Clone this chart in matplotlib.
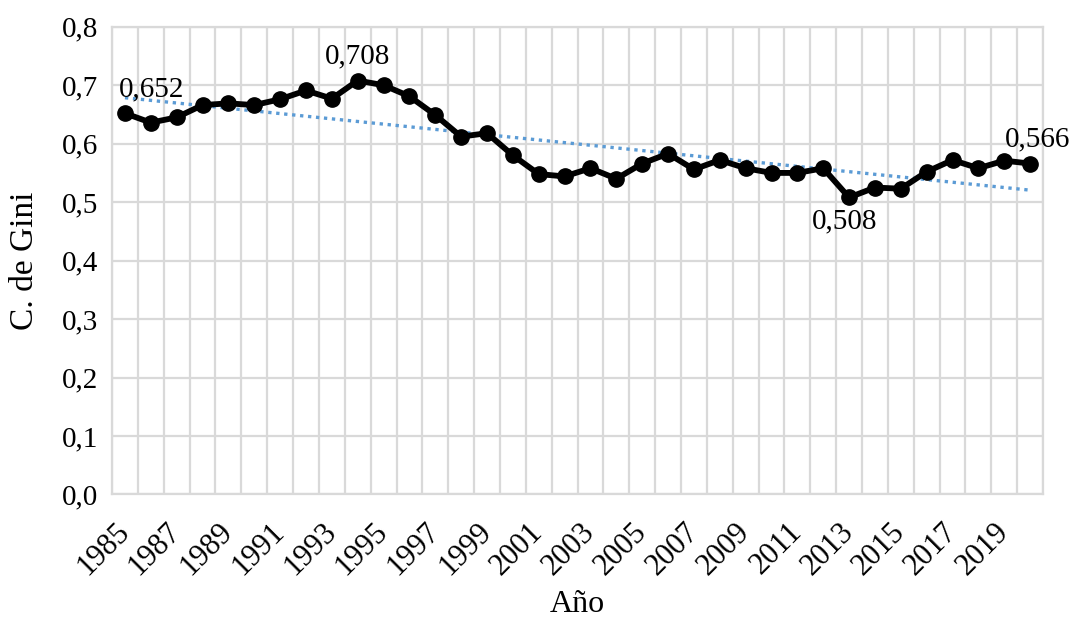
import numpy as np
import matplotlib.pyplot as plt

plt.rcParams['font.family'] = ['Liberation Serif', 'DejaVu Serif']

years = list(range(1985, 2021))
gini = [0.652, 0.636, 0.645, 0.666, 0.669, 0.666, 0.676, 0.691, 0.677, 0.708,
        0.700, 0.681, 0.649, 0.612, 0.618, 0.580, 0.548, 0.544, 0.558, 0.540,
        0.566, 0.583, 0.556, 0.572, 0.558, 0.550, 0.550, 0.558, 0.508, 0.525,
        0.523, 0.552, 0.572, 0.558, 0.571, 0.566]
# year -> (x offset, y offset) of the data label, in points
labeled = {1985: (19, 8), 1994: (0, 8), 2013: (-3, -8), 2020: (5, 8)}

x = np.arange(len(years))
fig = plt.figure(figsize=(10.73, 6.22), dpi=100)
ax = fig.add_axes([0.1044, 0.205, 0.8677, 0.752])

# linear trend
coef = np.polyfit(x, gini, 1)
ax.plot(x, np.polyval(coef, x), linestyle=(0, (1, 1.4)), color='#5B9BD5', lw=2.4, zorder=3)

ax.plot(x, gini, color='black', lw=4.2, marker='o', markersize=11, zorder=4)

for yr, (dx, dy) in labeled.items():
    i = years.index(yr)
    v = gini[i]
    txt = f'{v:.3f}'.replace('.', ',')
    ax.annotate(txt, (i, v), xytext=(dx, dy), textcoords='offset points',
                ha='center', va='bottom' if dy > 0 else 'top', fontsize=21)

ax.set_xlim(-0.5, len(years) - 0.5)
ax.set_ylim(0, 0.8)
yt = np.arange(0, 0.81, 0.1)
ax.set_yticks(yt)
ax.set_yticklabels([f'{t:.1f}'.replace('.', ',') for t in yt], fontsize=21)
ax.set_xticks(x[::2])
ax.set_xticklabels([str(y) for y in years[::2]], rotation=45, ha='right',
                   va='center', rotation_mode='anchor', fontsize=22)
ax.set_xticks(np.arange(-0.5, len(years), 1), minor=True)
ax.tick_params(axis='both', which='both', length=0)
ax.tick_params(axis='x', pad=24)
ax.tick_params(axis='y', pad=10)
ax.grid(True, axis='y', which='major', color='#D9D9D9', lw=1.6)
ax.grid(True, axis='x', which='minor', color='#D9D9D9', lw=1.6)
for s in ax.spines.values():
    s.set_color('#D9D9D9')
    s.set_linewidth(1.6)

ax.set_ylabel('C. de Gini', fontsize=24, labelpad=16)
ax.set_xlabel('Año', fontsize=23)
ax.xaxis.set_label_coords(0.5, -0.252)
ax.xaxis.label.set_va('baseline')

fig.savefig('out.png', dpi=100)
